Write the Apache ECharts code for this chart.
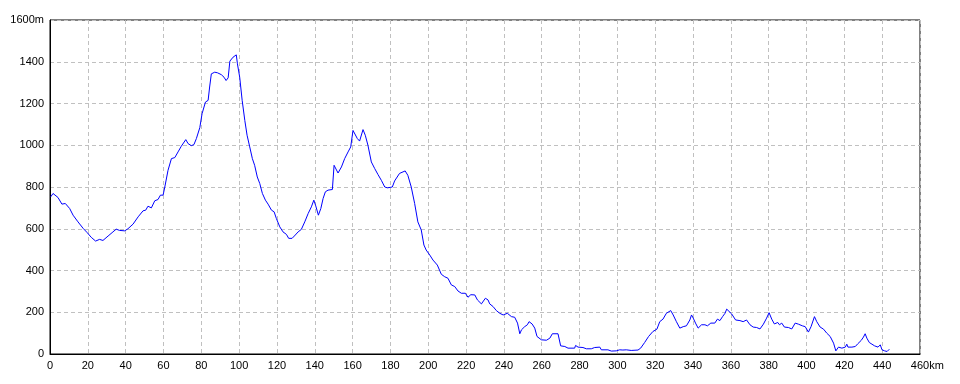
<!DOCTYPE html>
<html>
<head>
<meta charset="utf-8">
<script src="https://cdn.jsdelivr.net/npm/echarts@6/dist/echarts.min.js"></script>
<style>html,body{margin:0;padding:0;background:#fff}#c{width:960px;height:384px}</style>
</head>
<body>
<div id="c"></div>
<script>
// distance along the route (km)
var distKm = [0.4,1.6,4.2,6.3,8.1,10.4,12.2,14.8,17.5,19.7,21.8,24.1,26.2,28,30.7,33.3,35,36.8,39.5,41.2,43.9,46.6,49.2,50.6,51.8,53.6,55.4,57.1,58.4,59.8,60.7,62.4,64.2,66,67.7,69.4,71.8,73,74.7,76.1,77.4,79.2,80.4,82.2,83.6,84.4,85.3,87.1,88.6,
90.6,92,93.1,94.2,95.1,96.8,98.5,99.1,100.3,101.6,103,104.2,105.6,107,108.2,109.6,110.9,112.3,113.9,115.3,117.1,118.5,119.7,121.5,123.2,125,126.2,128,129.7,131.2,132.9,134.7,136.5,138.2,139.5,140.5,141.9,143.2,144.4,145.6,147,149.3,150.2,150.9,152.3,154.1,155.8,157.6,159,160.2,161.1,162.5,163.7,165.5,166.7,168.1,169.9,171.7,173.4,175.2,177,178.4,179.4,
181,182.2,184.8,187.8,189.2,191,192.8,194.5,196.3,197.7,198.9,200.8,202.5,204.8,206.9,208.7,210.4,212.2,214,215.7,217.5,219.6,221,222.5,224.6,226,228.1,230.2,231.6,232.5,234.3,236,237.8,239.6,241.8,244,245.7,247.2,248.4,249.3,251,252.4,253.3,254.9,256.3,257.5,259.8,262.5,264.3,265.6,268.6,269.5,
270,272.2,273.9,277.4,277.9,279.2,281.8,283.6,286.2,288,290.7,291.5,295,296.8,299.4,301.2,302.9,304.7,307.3,310.9,312.3,314.4,316.5,318.8,320.9,322.4,324.1,325.9,328.2,329.5,331.2,333,334.8,336.5,338.3,339.2,340.1,341.3,342.7,344.5,346.3,347.6,349.4,351.5,352.9,354.2,355.6,356.9,357.8,358.7,
360.4,362.5,364.8,366.5,368.3,370.1,371.8,373.6,375.4,377.2,378.9,380.2,381.6,383,384.8,385.7,386.9,388.3,390.4,392.2,394,395.7,396.6,397.8,399.3,401,402.4,404.2,405.4,407.2,409,410.7,412.5,414.3,415.5,416.9,418.7,420.5,421.3,421.9,424,425.8,427.1,428.9,430.1,431,431.9,433.2,434.6,436,437.8,439,439.9,441.3,442.6,443.8];
// elevation (m)
var elevM = [753,769,750,718,721,697,665,633,602,581,559,541,549,544,565,585,598,592,590,600,622,657,686,689,708,700,734,740,761,761,800,880,936,941,968,995,1027,1008,998,1003,1032,1084,1151,1207,1215,1279,1342,1350,1347,
1338,1326,1310,1323,1403,1422,1433,1390,1326,1215,1119,1048,992,936,904,848,817,769,737,718,689,681,649,609,585,573,554,554,570,585,597,633,673,705,737,710,665,697,745,777,785,788,904,909,867,896,936,968,992,1071,1075,1032,1020,1075,1048,1000,920,888,860,832,800,796,788,
800,829,865,877,856,800,721,633,594,522,498,474,450,426,382,370,363,331,323,302,291,291,272,284,283,259,240,267,259,240,227,208,195,187,195,179,176,148,97,116,131,140,155,144,124,84,68,66,76,97,97,97,
39,36,28,28,41,33,31,25,25,31,33,20,20,14,15,20,19,20,17,19,28,55,84,108,119,155,167,195,208,187,155,124,131,135,163,187,172,148,124,140,140,135,148,148,167,160,179,195,215,215,
192,163,160,155,163,140,129,127,120,143,172,198,167,144,151,140,148,129,127,120,148,143,148,135,131,105,131,179,155,129,119,100,84,52,15,33,28,33,47,33,33,36,49,65,81,97,76,55,47,39,33,44,20,15,12,23];
var xTicks = [0,20,40,60,80,100,120,140,160,180,200,220,240,260,280,300,320,340,360,380,400,420,440,460];
var yTicks = [0,200,400,600,800,1000,1200,1400,1600];

var pts = distKm.map(function(d,i){return [d, elevM[i]];});
var chart = echarts.init(document.getElementById('c'), null, {renderer:'canvas'});
var lblFont = {fontFamily:'Liberation Sans, Arial, sans-serif', fontSize:11, color:'#000'};
chart.setOption({
  animation:false,
  grid:{left:50, right:40, top:20, bottom:30, show:true, borderColor:'#000', borderWidth:1, backgroundColor:'#fff'},
  xAxis:{type:'value', min:0, max:460, interval:20,
    axisLine:{show:true, lineStyle:{color:'#000', width:1}},
    axisTick:{show:false},
    axisLabel:Object.assign({margin:6, showMaxLabel:true, showMinLabel:true,
      formatter:function(v){ return v===460 ? '{h|km}460km' : String(v); },
      rich:{h:{color:'rgba(0,0,0,0)', fontFamily:'Liberation Sans, Arial, sans-serif', fontSize:11}}}, lblFont),
    splitLine:{show:true, lineStyle:{color:'#c0c0c0', type:[4,3], width:1}}
  },
  yAxis:{type:'value', min:0, max:1600, interval:200,
    axisLine:{show:true, lineStyle:{color:'#000', width:1}},
    axisTick:{show:false},
    axisLabel:Object.assign({margin:6, showMaxLabel:true,
      formatter:function(v){ return v===1600 ? '1600m' : String(v); }}, lblFont),
    splitLine:{show:true, lineStyle:{color:'#c0c0c0', type:[4,3], width:1}}
  },
  series:[{type:'line', data:pts, showSymbol:false, symbol:'none',
    lineStyle:{color:'#0000ff', width:1}, z:5}]
});
</script>
</body>
</html>
